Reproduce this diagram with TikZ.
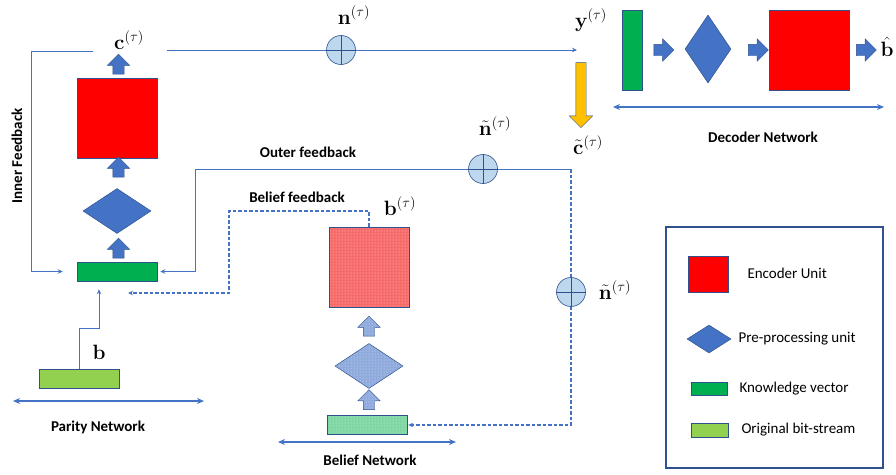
\documentclass[tikz,border=0pt]{standalone}
\usepackage[no-math]{fontspec}
\setmainfont{Carlito}
\usetikzlibrary{shapes.geometric,shapes.arrows,arrows.meta,patterns}
\definecolor{lblue}{HTML}{4472C4}
\definecolor{dblue}{HTML}{2F528F}
\definecolor{ored}{HTML}{FF0000}
\definecolor{ogreen}{HTML}{00B050}
\definecolor{lgreen}{HTML}{92D050}
\definecolor{oyellow}{HTML}{FFC000}
\definecolor{cfill}{HTML}{BDD7EE}
\definecolor{pred}{HTML}{F76A6A}
\definecolor{pblue}{HTML}{8FAADC}
\definecolor{pgreen}{HTML}{7ED6A3}
\begin{document}
\begin{tikzpicture}[x=1pt,y=-1pt,
  flow/.style={draw=lblue, line width=0.8pt},
  tipped/.style={-{Stealth[length=5pt,width=4.5pt]}},
  dflow/.style={draw=lblue, line width=1.2pt, dash pattern=on 3.5pt off 2pt},
  spanarr/.style={draw=lblue, line width=1.4pt, {Stealth[length=7pt,width=6pt]}-{Stealth[length=7pt,width=6pt]}},
  box/.style={rectangle, draw=dblue, line width=0.5pt, inner sep=0pt},
  dia/.style={diamond, draw=dblue, fill=lblue, line width=0.5pt, inner sep=0pt},
  blk/.style={single arrow, draw=dblue, line width=0.4pt, fill=lblue, inner xsep=0pt, inner ysep=5.5pt, single arrow head extend=5.5pt, minimum height=20pt},
  dotfill/.style={preaction={fill=#1}, pattern=dots, pattern color=white!70!#1},
  lbl/.style={font=\fontsize{15}{18}\selectfont\bfseries},
  leg/.style={font=\fontsize{15}{18}\selectfont, anchor=west},
  mth/.style={font=\fontsize{22}{26}\selectfont, inner sep=0pt},
  sumc/.style={circle, draw=dblue, fill=cfill, line width=0.6pt, minimum size=29pt, inner sep=0pt}]
\useasboundingbox (0,0) rectangle (896,474);

% ---------- Parity network ----------
\node[box, fill=ored, minimum width=80pt, minimum height=80pt] (enc) at (117,118) {};
\node[dia, minimum width=68pt, minimum height=45pt] (pre) at (117,211) {};
\node[box, fill=ogreen, minimum width=80pt, minimum height=19pt] (kv) at (117,271.5) {};
\node[box, fill=lgreen, minimum width=80pt, minimum height=19pt] (bs) at (79,378.5) {};
\node[blk, rotate=90] (a1) at (118.5,67) {};
\node[blk, rotate=90] (a2) at (118.5,170) {};
\node[blk, rotate=90] (a3) at (118.5,251) {};
\node[mth] (clab) at (129,40) {$\mathbf{c}^{(\tau)}$};
\node[mth] (blab) at (99,352) {$\mathbf{b}$};
\node[lbl, rotate=90] (inner) at (17,156) {Inner Feedback};
\node[lbl] (parity) at (98,427) {Parity Network};
\coordinate (pl) at (13,401);
\coordinate (pr) at (204,401);
\draw[spanarr] (pl) -- (pr);

% inner feedback
\coordinate (cL) at (93,51);
\coordinate (ifc) at (31,51);
\draw[flow, tipped, shorten >=14pt] (cL) -- (ifc) |- (kv.west);
% bit-stream to knowledge vector
\coordinate (bk) at (99,328);
\draw[flow, tipped, shorten >=8pt] (bs.north) |- (bk) -- (bk |- kv.south);

% ---------- channel ----------
\coordinate (cR) at (167,50);
\node[sumc] (n1) at (341,50) {};
\draw[dblue, line width=0.6pt] (n1.north) -- (n1.south) (n1.east) -- (n1.west);
\node[mth] (nlab) at (354,15) {$\mathbf{n}^{(\tau)}$};
\coordinate (yin) at (577,50);
\draw[flow] (cR) -- (n1.west);
\draw[flow, tipped] (n1.east) -- (yin);
\node[mth] (ylab) at (591,20) {$\mathbf{y}^{(\tau)}$};
\node[blk, fill=oyellow, rotate=-90, minimum height=65pt, inner ysep=5pt, single arrow head extend=6.5pt] (ya) at (581,92.5) {};
\node[mth] (ctlab) at (588,145) {$\tilde{\mathbf{c}}^{(\tau)}$};

% ---------- outer feedback ----------
\node[sumc] (n2) at (483,169) {};
\draw[dblue, line width=0.6pt] (n2.north) -- (n2.south) (n2.east) -- (n2.west);
\node[mth] (n2lab) at (495,126) {$\tilde{\mathbf{n}}^{(\tau)}$};
\coordinate (oc) at (571,169);
\coordinate (ol) at (195,169);
\draw[flow] (oc) -- (n2.east);
\draw[flow, tipped, shorten >=3pt] (n2.west) -- (ol) |- (kv.east);
\node[lbl] (outer) at (308,152) {Outer feedback};

\node[sumc] (n3) at (571,292) {};
\draw[dblue, line width=0.6pt] (n3.north) -- (n3.south) (n3.east) -- (n3.west);
\node[mth] (n3lab) at (615,290) {$\tilde{\mathbf{n}}^{(\tau)}$};
\coordinate (dc) at (571,425);

% ---------- belief network (shapes placed first, patterns filled last) ----------
\node[rectangle, inner sep=0pt, minimum width=80pt, minimum height=80pt] (benc) at (369,267) {};
\node[single arrow, inner xsep=0pt, inner ysep=5.5pt, single arrow head extend=5.5pt, minimum height=20pt, rotate=90] (b1) at (369,329) {};
\node[diamond, inner sep=0pt, minimum width=68pt, minimum height=45pt] (bpre) at (369,366) {};
\node[single arrow, inner xsep=0pt, inner ysep=5.5pt, single arrow head extend=5.5pt, minimum height=20pt, rotate=90] (b2) at (369,402.5) {};
\node[rectangle, inner sep=0pt, minimum width=80pt, minimum height=19pt] (bkv) at (367,424.5) {};
\node[mth] (btlab) at (400,206) {$\mathbf{b}^{(\tau)}$};
\node[lbl] (belnet) at (370,460) {Belief Network};
\coordinate (bl) at (278,442);
\coordinate (br) at (456,442);
\draw[spanarr] (bl) -- (br);

\draw[dflow] (oc) -- (n3.north);
\draw[dflow, tipped, shorten >=1pt] (n3.south) -- (dc) -- (bkv.east |- dc);

% belief feedback
\coordinate (bf1) at (369,211);
\coordinate (bf2) at (229,211);
\coordinate (bf3) at (128,293);
\draw[dflow, tipped] (benc.north) -- (bf1) -- (bf2) |- (bf3);
\node[lbl] (belfb) at (297,197) {Belief feedback};

% ---------- decoder ----------
\node[box, fill=ogreen, minimum width=20pt, minimum height=80pt] (dkv) at (632,50) {};
\node[blk] (d1) at (661,50) {};
\node[dia, minimum width=46pt, minimum height=68pt] (dpre) at (708,49) {};
\node[blk] (d2) at (755.5,50) {};
\node[box, fill=ored, minimum width=80pt, minimum height=80pt] (denc) at (809,50) {};
\node[blk] (d3) at (863.5,50) {};
\node[mth] (bhat) at (887,47) {$\hat{\mathbf{b}}$};
\coordinate (dl) at (613,107);
\coordinate (dr) at (884,107);
\draw[spanarr] (dl) -- (dr);
\node[lbl] (decnet) at (763,137) {Decoder Network};

% ---------- legend ----------
\node[draw=dblue, line width=1.5pt, minimum width=217pt, minimum height=241pt, inner sep=0pt] (legend) at (774.5,347.5) {};
\node[box, fill=ored, minimum width=40pt, minimum height=36pt] (lenc) at (708,274) {};
\node[leg] (tenc) at (744,273) {Encoder Unit};
\node[dia, minimum width=44pt, minimum height=28pt] (lpre) at (709,339) {};
\node[leg] (tpre) at (735,339) {Pre-processing unit};
\node[box, fill=ogreen, minimum width=36pt, minimum height=13pt] (lkv) at (709,388.5) {};
\node[leg] (tkv) at (736,389) {Knowledge vector};
\node[box, fill=lgreen, minimum width=37pt, minimum height=14pt] (lbs) at (709.5,430) {};
\node[leg] (tbs) at (738,430) {Original bit-stream};

% ---------- patterned belief shapes, drawn last ----------
\node[box, dotfill=pred, minimum width=80pt, minimum height=80pt] (bencF) at (benc) {};
\node[blk, rotate=90, dotfill=pblue] (b1F) at (b1) {};
\node[dia, dotfill=pblue, minimum width=68pt, minimum height=45pt] (bpreF) at (bpre) {};
\node[blk, rotate=90, dotfill=pblue] (b2F) at (b2) {};
\node[box, dotfill=pgreen, minimum width=80pt, minimum height=19pt] (bkvF) at (bkv) {};
\end{tikzpicture}
\end{document}
